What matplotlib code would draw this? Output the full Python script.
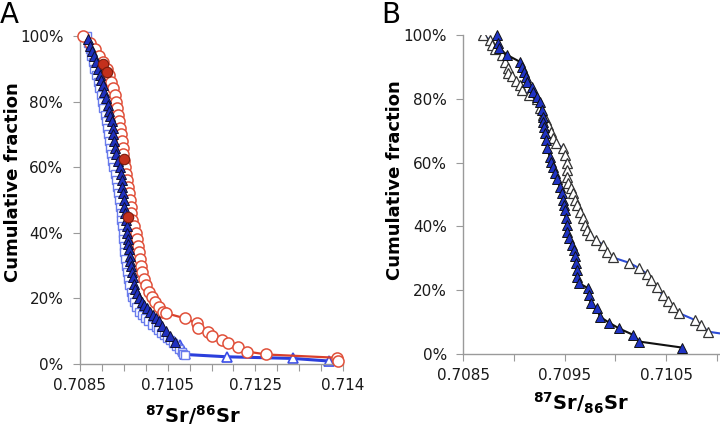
import numpy as np
import matplotlib.pyplot as plt
from matplotlib.ticker import PercentFormatter, FixedLocator

# ---- panel A data (87Sr/86Sr, cumulative %) ----
red_open_x = [0.70856, 0.70871, 0.70881, 0.70890, 0.70898, 0.70906, 0.70911, 0.70915,
              0.70919, 0.70923, 0.70925, 0.70927, 0.70929, 0.70932, 0.70934, 0.70936,
              0.70938, 0.70939, 0.70940, 0.70942, 0.70944, 0.70946, 0.70948, 0.70950,
              0.70952, 0.70955, 0.70956, 0.70957, 0.70959, 0.70963, 0.70967, 0.70969,
              0.70971, 0.70973, 0.70975, 0.70978, 0.70980, 0.70984, 0.70988, 0.70994,
              0.71001, 0.71007, 0.71015, 0.71024, 0.71030, 0.71070, 0.71094, 0.71097,
              0.71118, 0.71125, 0.71146, 0.71160, 0.71180, 0.71199, 0.71240, 0.71387,
              0.71390]
red_open_y = [100, 98, 96, 94, 92, 90, 88, 86,
              84, 82, 80, 78, 76, 74, 72, 70,
              68, 66, 64, 62, 60, 58, 56, 54,
              52, 50, 48, 46, 44, 42, 40, 38,
              36, 34, 32, 30, 28, 26, 24, 22,
              20.5, 19, 17.5, 16, 15.5, 13.9, 12.4, 11,
              9.8, 8.5, 7.3, 6.4, 5.2, 3.8, 2.9, 1.9,
              0.9]

red_fill_x = [0.70899, 0.70907, 0.70941, 0.70951]
red_fill_y = [91.5, 89, 62.4, 44.7]

tri_x = [0.70867, 0.70871, 0.70875, 0.70879, 0.70883, 0.70888, 0.70891, 0.70894,
         0.70898, 0.70901, 0.70904, 0.70908, 0.70911, 0.70913, 0.70916, 0.70918,
         0.70920, 0.70922, 0.70924, 0.70926, 0.70929, 0.70933, 0.70935, 0.70937,
         0.70938, 0.70940, 0.70942, 0.70943, 0.70945, 0.70947, 0.70948, 0.70949,
         0.70950, 0.70951, 0.70952, 0.70954, 0.70955, 0.70957, 0.70959, 0.70961,
         0.70963, 0.70966, 0.70969, 0.70973, 0.70979, 0.70984, 0.70990, 0.70996,
         0.71003, 0.71009, 0.71015, 0.71021, 0.71030, 0.71038, 0.71049]
tri_y = [99, 97, 95.5, 94, 92, 90, 88, 86.5,
         85, 83, 81, 79, 77, 75.5, 74, 72,
         70, 68, 66, 64, 62, 60, 58, 56,
         54, 52, 50, 48, 46, 44, 42, 40,
         38, 36.5, 35, 33, 31.5, 30, 28, 26.5,
         24.5, 23, 21.5, 20, 19, 18, 17, 16,
         15, 14, 13, 11.5, 10, 8.5, 6.8]

sq_x = [0.70865, 0.70867, 0.70870, 0.70873, 0.70877, 0.70880, 0.70883, 0.70887,
        0.70890, 0.70893, 0.70896, 0.70899, 0.70902, 0.70904, 0.70906, 0.70909,
        0.70911, 0.70913, 0.70915, 0.70917, 0.70920, 0.70923, 0.70925, 0.70927,
        0.70929, 0.70932, 0.70933, 0.70935, 0.70936, 0.70938, 0.70939, 0.70940,
        0.70941, 0.70942, 0.70944, 0.70946, 0.70948, 0.70950, 0.70952, 0.70956,
        0.70959, 0.70963, 0.70968, 0.70973, 0.70980, 0.70986, 0.70993, 0.71001,
        0.71008, 0.71013, 0.71019, 0.71026, 0.71032, 0.71038, 0.71044, 0.71051,
        0.71057, 0.71063, 0.71066, 0.71070]
sq_y = [100, 98, 96, 94, 92, 90, 88, 86,
        84, 82, 80, 78, 76, 74, 72, 70,
        68, 66, 64, 62, 60, 58, 56, 54,
        52, 50, 48, 46, 44, 42, 40, 38,
        36, 34, 32, 30, 28, 26, 24, 22,
        20.5, 19, 17.5, 16, 15, 14, 13, 12,
        11.2, 10.4, 9.6, 8.8, 8, 7.2, 6.4, 5.5,
        4.6, 3.8, 3.2, 2.7]

otri_x = [0.71059, 0.71066, 0.71070, 0.71157, 0.71295, 0.71371]
otri_y = [5.8, 4.3, 2.9, 2.2, 1.7, 0.9]

a_tick_pos = [0.7085, 0.7085 + 0.0055 / 3, 0.7085 + 0.011 / 3, 0.714]
a_tick_lab = ['0.7085', '0.7105', '0.7125', '0.714']

# ---- panel B data ----
b_fill_x = [0.708831, 0.708847, 0.708857, 0.708936, 0.709060, 0.709077, 0.709100, 0.709119,
            0.709132, 0.709176, 0.709191, 0.709230, 0.709257, 0.709274, 0.709284, 0.709290,
            0.709296, 0.709306, 0.709316, 0.709329, 0.709355, 0.709368, 0.709382, 0.709405,
            0.709421, 0.709454, 0.709471, 0.709486, 0.709495, 0.709503, 0.709510, 0.709520,
            0.709520, 0.709545, 0.709569, 0.709591, 0.709601, 0.709611, 0.709618, 0.709624,
            0.709644, 0.709732, 0.709742, 0.709756, 0.709821, 0.709847, 0.709939, 0.710037,
            0.710175, 0.710234, 0.710660]
b_fill_y = [100, 97.4, 95.8, 93.7, 91.6, 90, 88.5, 86.9,
            85.4, 83.8, 82.2, 80.6, 79, 76.5, 74.4, 72.8,
            71.3, 69.2, 67, 64.5, 61.8, 60.3, 58.7, 56.6,
            55, 52.4, 50.4, 48.3, 46.7, 45.1, 42.5, 40.4,
            38.3, 36.3, 34.2, 32.6, 30.7, 28.4, 26.3, 24.2,
            22.2, 20.6, 18.5, 15.9, 14.3, 11.7, 9.8, 8,
            6, 3.9, 2]

b_open_x = [0.708700, 0.708765, 0.708782, 0.708815, 0.708881, 0.708913, 0.708945, 0.708945,
            0.708979, 0.709020, 0.709060, 0.709077, 0.709150, 0.709225, 0.709257, 0.709284,
            0.709316, 0.709339, 0.709362, 0.709388, 0.709414, 0.709486, 0.709503, 0.709520,
            0.709520, 0.709526, 0.709535, 0.709560, 0.709585, 0.709601, 0.709618, 0.709650,
            0.709683, 0.709700, 0.709716, 0.709749, 0.709808, 0.709880, 0.709913, 0.709972,
            0.710135, 0.710234, 0.710312, 0.710355, 0.710405, 0.710464, 0.710519, 0.710568,
            0.710627, 0.710781, 0.710847, 0.710912, 0.711150]
b_open_y = [100, 98.4, 96.9, 95.5, 93.7, 91.6, 89.5, 88,
            87, 85.6, 84.3, 82.8, 81.3, 79.8, 77, 74.9,
            73.4, 71.8, 69.7, 67.6, 66, 64.5, 62.4, 59.8,
            57.7, 55.6, 53.5, 52, 50.4, 48.3, 46.7, 44.6,
            42.5, 40.4, 38.9, 37.3, 35.7, 34.2, 32, 30.3,
            28.6, 26.9, 25.1, 23.2, 21.1, 18.5, 16.6, 14.8,
            12.8, 10.7, 9.1, 7, 5.9]

b_tick_pos = [0.7085, 0.7095, 0.7105]
b_tick_lab = ['0.7085', '0.7095', '0.7105']

plt.rcParams['font.family'] = ['DejaVu Sans']
plt.rcParams['mathtext.fontset'] = 'dejavusans'

fig = plt.figure(figsize=(7.2, 4.29), dpi=100)
axA = fig.add_axes([80 / 720, 1 - 364 / 429, 263 / 720, 328 / 429])
axB = fig.add_axes([463 / 720, 1 - 354 / 429, 257 / 720, 319 / 429])


def style_axis(ax, ypad, xpad):
    for s in ['top', 'right']:
        ax.spines[s].set_visible(False)
    for s in ['left', 'bottom']:
        ax.spines[s].set_color('#9a9a9a')
        ax.spines[s].set_linewidth(1.0)
    ax.set_ylim(0, 100)
    ax.yaxis.set_major_locator(FixedLocator([0, 20, 40, 60, 80, 100]))
    ax.yaxis.set_major_formatter(PercentFormatter(xmax=100, decimals=0))
    ax.tick_params(axis='y', which='both', direction='out', length=5, width=0.8,
                   color='#9a9a9a', labelsize=11, labelcolor='#1a1a1a', pad=ypad)
    ax.tick_params(axis='x', which='both', direction='out', length=5, width=0.8,
                   color='#9a9a9a', labelsize=11, labelcolor='#1a1a1a', pad=xpad)


# ---- panel A ----
style_axis(axA, 7, 5)
axA.set_xlim(0.7085, 0.714)
axA.xaxis.set_major_locator(FixedLocator(a_tick_pos))
axA.set_xticklabels(a_tick_lab)
axA.xaxis.set_minor_locator(FixedLocator(list(np.linspace(0.7085, 0.714, 13))))

axA.plot(otri_x, otri_y, '-', color='#2b3fdc', lw=2.2, marker='^', ms=7,
         mfc='white', mec='#3a4de8', mew=1.2, zorder=2, clip_on=False)
axA.plot(sq_x, sq_y, '-', color='#4a5ee8', lw=1.5, marker='s', ms=5.5,
         mfc='white', mec='#6a7cec', mew=1.0, zorder=3, clip_on=False)
axA.plot(red_open_x, red_open_y, '-', color='#d9402c', lw=1.6, marker='o', ms=8,
         mfc='white', mec='#e0503a', mew=1.1, zorder=4, clip_on=False)
axA.plot(tri_x, tri_y, 'none', marker='^', ms=7.5, mfc='#1f30bf', mec='#101030',
         mew=0.7, zorder=5, clip_on=False)
axA.plot(red_fill_x, red_fill_y, 'none', marker='o', ms=7.5, mfc='#c3301c', mec='#7a1a0c',
         mew=0.8, zorder=6, clip_on=False)

axA.set_ylabel('Cumulative fraction', fontsize=13, fontweight='bold')
axA.yaxis.set_label_coords(-0.222, 0.555)

# ---- panel B ----
style_axis(axB, 6.5, 5)
axB.set_xlim(0.7085, 0.71103)
axB.xaxis.set_major_locator(FixedLocator(b_tick_pos))
axB.set_xticklabels(b_tick_lab)
axB.xaxis.set_minor_locator(FixedLocator([0.7090, 0.7100, 0.7110]))

axB.plot(b_open_x, b_open_y, '-', color='#2c4bd6', lw=1.5, marker='^', ms=7.5,
         mfc='white', mec='#333333', mew=0.9, zorder=3, clip_on=True)
axB.plot(b_fill_x, b_fill_y, '-', color='#111111', lw=1.5, marker='^', ms=7.5,
         mfc='#1f33c4', mec='#111111', mew=0.7, zorder=4, clip_on=False)

axB.set_ylabel('Cumulative fraction', fontsize=13, fontweight='bold')
axB.yaxis.set_label_coords(-0.228, 0.545)

# x labels and panel letters
fig.text(193 / 720, 6 / 429, r'$^{\mathbf{87}}$Sr/$^{\mathbf{86}}$Sr', ha='center',
         va='baseline', fontsize=14, fontweight='bold')
fig.text(581 / 720, 19 / 429, r'$^{\mathbf{87}}$Sr/$_{\mathregular{86}}$Sr', ha='center',
         va='baseline', fontsize=14, fontweight='bold')
fig.text(0 / 720, 1 - 23 / 429, 'A', fontsize=20, va='baseline')
fig.text(381 / 720, 1 - 23 / 429, 'B', fontsize=20, va='baseline')

fig.savefig('out.png', dpi=100)
